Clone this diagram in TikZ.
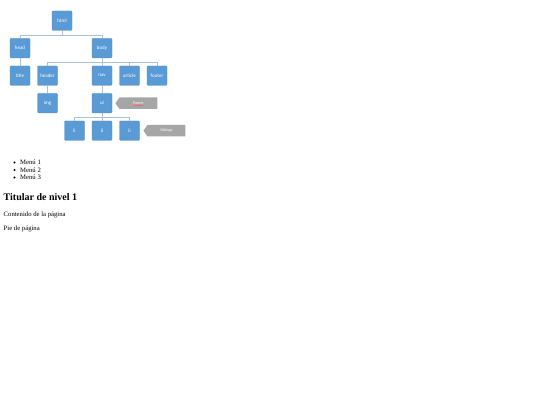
\documentclass[tikz,border=0pt]{standalone}
\usepackage{fontspec}
\setmainfont{Liberation Serif}
\newfontfamily\boxfont{Carlito}
\usetikzlibrary{shapes.symbols,positioning}

\definecolor{tagblue}{HTML}{5B9BD5}
\definecolor{tagedge}{HTML}{4F8CC6}
\definecolor{treeline}{HTML}{A9C1DA}
\definecolor{notegray}{HTML}{A6A6A6}

\begin{document}
\begin{tikzpicture}[
                    x=1pt, y=1pt,
                    node distance=27.5pt,
                    tag/.style={
                        rectangle,
                        rounded corners=1pt,
                        draw=tagedge,
                        fill=tagblue,
                        text=white,
                        minimum width=20pt,
                        minimum height=19.5pt,
                        inner sep=0pt,
                        font=\boxfont\fontsize{5}{6}\selectfont
                    },
                    note/.style={
                        signal,
                        signal to=west,
                        signal pointer angle=110,
                        fill=notegray,
                        text=white,
                        minimum width=42pt,
                        minimum height=11.5pt,
                        inner sep=0pt,
                        font=\boxfont\fontsize{4}{4}\selectfont
                    },
                    branch/.style={draw=treeline, line width=0.6pt},
                    line/.style={anchor=base west, inner sep=0pt, font=\fontsize{6.7}{8}\selectfont}
                ]
                    \useasboundingbox (0,0) rectangle (540,-405);

                    \node[tag] (html) at (62,-20.7) {html};
                    \node[tag] (head) at (20,-48.2) {head};
                    \node[tag] (title) [below of=head] {title};
                    \node[tag] (header) [right of=title] {header};
                    \node[tag] (nav) [right of=header, node distance=54.5pt] {nav};
                    \node[tag] (article) [right of=nav] {article};
                    \node[tag] (footer) [right of=article] {footer};
                    \node[tag] (body) [above of=nav] {body};
                    \node[tag] (img) [below of=header] {img};
                    \node[tag] (ul) [below of=nav] {ul};
                    \node[tag] (li2) [below of=ul] {li};
                    \node[tag] (li1) [left of=li2] {li};
                    \node[tag] (li3) [right of=li2] {li};

                    % Notes
                    \node[note] (parent) [right=3pt of ul] {Parent};
                    \draw[red!60, line width=0.2pt] ([xshift=-5pt,yshift=-1.8pt]parent.center) -- ([xshift=5pt,yshift=-1.8pt]parent.center);
                    \node[note] (siblings) [right=3.5pt of li3] {Siblings};

                    % Edges
                    \draw[branch] (html.south) -- ++(0,-4.5) -| (head.north);
                    \draw[branch] (html.south) -- ++(0,-4.5) -| (body.north);
                    \draw[branch] (head) -- (title);
                    \draw[branch] (body.south) -- ++(0,-4) -| (header.north);
                    \draw[branch] (body) -- (nav);
                    \draw[branch] (body.south) -- ++(0,-4) -| (article.north);
                    \draw[branch] (body.south) -- ++(0,-4) -| (footer.north);
                    \draw[branch] (header) -- (img);
                    \draw[branch] (nav) -- (ul);
                    \draw[branch] (ul.south) -- ++(0,-4) -| (li1.north);
                    \draw[branch] (ul) -- (li2);
                    \draw[branch] (ul.south) -- ++(0,-4) -| (li3.north);

                    % Page text
                    \node[line] (menu1) at (20,-164.5) {Menú 1};
                    \node[line] (menu2) at (20,-172) {Menú 2};
                    \node[line] (menu3) at (20,-179.5) {Menú 3};
                    \foreach \m in {menu1,menu2,menu3}
                        \fill ([xshift=-5.5pt,yshift=2pt]\m.base west) circle (1.1pt);
                    \node[line, font=\bfseries\fontsize{10}{12}\selectfont] (titular) at (3.5,-200) {Titular de nivel 1};
                    \node[line] (contenido) at (3.5,-216.5) {Contenido de la página};
                    \node[line] (pie) at (3.5,-230.5) {Pie de página};
                \end{tikzpicture}
\end{document}
